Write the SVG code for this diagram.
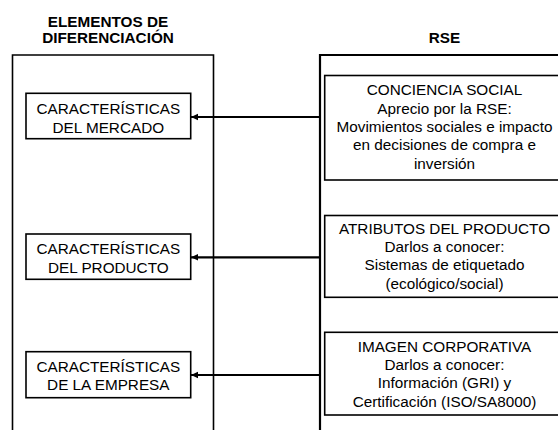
<svg xmlns="http://www.w3.org/2000/svg" width="558" height="430" viewBox="0 0 558 430">
<style>
text{font-family:"Liberation Sans",Arial,sans-serif;font-size:15.3px;fill:#000;text-anchor:middle}
.h{font-weight:bold}
.outer{fill:none;stroke:#000;stroke-width:1.6}
.box{fill:#fff;stroke:#000;stroke-width:1.6}
.conn{stroke:#000;stroke-width:2.2;fill:none;marker-end:url(#ah)}
</style>
<defs>
<marker id="ah" markerWidth="8" markerHeight="8" refX="7" refY="4" orient="auto" markerUnits="userSpaceOnUse">
<path d="M0,0.8 L7,4 L0,7.2 Z" fill="#000"/>
</marker>
</defs>
<rect width="558" height="430" fill="#fff"/>
<g id="col-left">
<text class="h" x="108" y="26.7">ELEMENTOS DE</text>
<text class="h" x="108" y="43.3">DIFERENCIACIÓN</text>
<path class="outer" d="M12.5,432 V55 H213.5 V432"/>
</g>
<g id="col-right">
<text class="h" x="444.5" y="43.3">RSE</text>
<path class="outer" d="M320,432 V55 H560" style="stroke-width:2.2"/>
</g>
<g id="n-mercado">
<rect class="box" x="26" y="93.3" width="164.7" height="45.4"/>
<text x="108.3" y="114.3">CARACTERÍSTICAS</text>
<text x="108.3" y="132.7">DEL MERCADO</text>
</g>
<g id="n-producto">
<rect class="box" x="26" y="234" width="164.7" height="45.3"/>
<text x="108.3" y="254.3">CARACTERÍSTICAS</text>
<text x="108.3" y="272.7">DEL PRODUCTO</text>
</g>
<g id="n-empresa">
<rect class="box" x="26" y="351.7" width="164.7" height="46"/>
<text x="108.3" y="371.7">CARACTERÍSTICAS</text>
<text x="108.3" y="390">DE LA EMPRESA</text>
</g>
<g id="n-conciencia">
<rect class="box" x="324.7" y="75.5" width="240" height="104.5"/>
<text x="444.5" y="95">CONCIENCIA SOCIAL</text>
<text x="444.5" y="113.5">Aprecio por la RSE:</text>
<text x="444.5" y="131.8">Movimientos sociales e impacto</text>
<text x="444.5" y="150.3">en decisiones de compra e</text>
<text x="444.5" y="168.8">inversión</text>
</g>
<g id="n-atributos">
<rect class="box" x="324.7" y="215.5" width="240" height="81.8"/>
<text x="444.5" y="233.5">ATRIBUTOS DEL PRODUCTO</text>
<text x="444.5" y="251.8">Darlos a conocer:</text>
<text x="444.5" y="270.3">Sistemas de etiquetado</text>
<text x="444.5" y="288.8">(ecológico/social)</text>
</g>
<g id="n-imagen">
<rect class="box" x="324.7" y="332.3" width="240" height="82.7"/>
<text x="444.5" y="351.5">IMAGEN CORPORATIVA</text>
<text x="444.5" y="369.8">Darlos a conocer:</text>
<text x="444.5" y="388.3">Información (GRI) y</text>
<text x="444.5" y="406.8">Certificación (ISO/SA8000)</text>
</g>
<g id="connectors">
<line class="conn" x1="320" y1="117" x2="191" y2="117"/>
<line class="conn" x1="320" y1="257.3" x2="191" y2="257.3"/>
<line class="conn" x1="320" y1="375" x2="191" y2="375"/>
</g>
</svg>
